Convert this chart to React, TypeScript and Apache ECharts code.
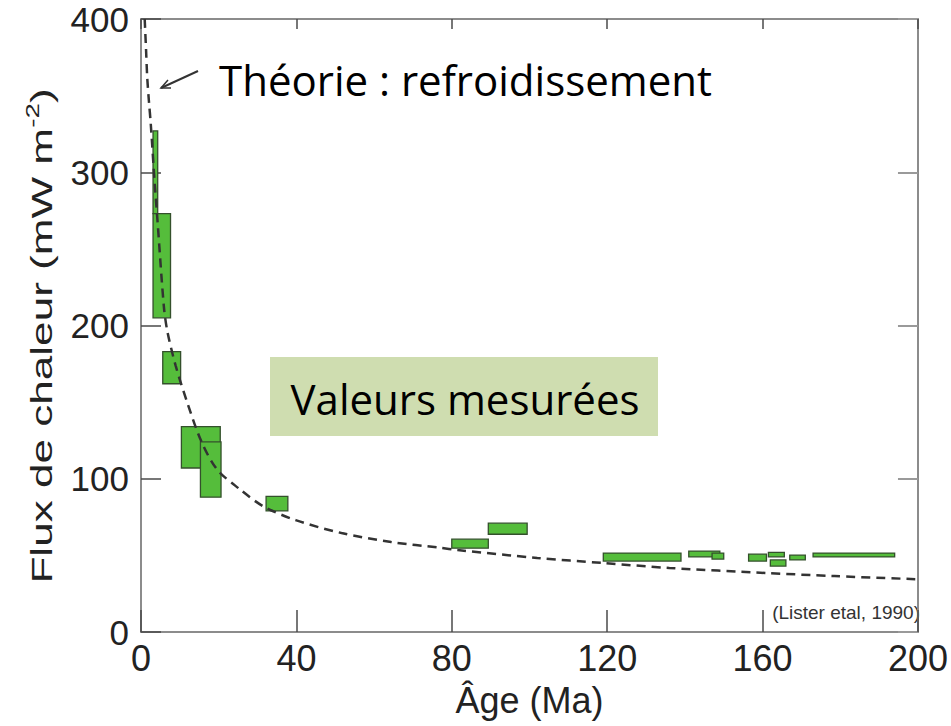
import React, { useEffect, useRef } from "react";
import * as echarts from "echarts";

// Theoretical cooling curve (age in Ma, heat flow in mW m-2)
const curveAge = [0.95, 1.3, 1.6, 2.05, 2.5, 3.55, 4.2, 5.9, 6.8, 8.9, 12, 15.6, 19.6, 25.5, 31.5, 39.8, 51.6, 64.4, 77, 81.5, 102, 119, 136, 161, 178.5, 200];
const curveFlux = [400, 380, 362, 346, 332, 292, 270, 212, 196, 174, 149, 124, 106, 93, 82, 73, 64.6, 58.7, 55, 53.5, 48.3, 45, 41.8, 38.5, 36.5, 34.4];

// Measured ranges: age from / to, heat flow low / high
const boxAgeFrom = [3.1, 3.1, 5.6, 10.4, 15.3, 32.2, 80, 89.4, 119, 141, 147, 156.4, 161.5, 162, 167, 173];
const boxAgeTo = [4.3, 7.6, 10.2, 20.4, 20.6, 37.8, 89.4, 99.4, 139, 149, 150, 161, 165.6, 166, 171, 194];
const boxFluxLow = [273, 205, 162, 107, 88, 79, 54.7, 63.8, 46.3, 49, 47.6, 46.3, 49, 43, 47, 49];
const boxFluxHigh = [327, 273, 183, 134, 124, 88.5, 60.6, 71, 51.5, 52.8, 51.5, 50.8, 52, 47, 50.2, 51.5];

const xTicks = { min: 0, max: 200, interval: 40 };
const yTicks = { min: 0, max: 400, interval: 100 };

const FRAME = "#8c8c8c";
const TICK = "#4a4a4a";
const SANS = "Liberation Sans, Arial, Helvetica, sans-serif";
const NOTE = "Open Sans, Noto Sans, sans-serif";

export default function App() {
  const ref = useRef<HTMLDivElement>(null);

  useEffect(() => {
    document.body.style.margin = "0";
    if (!ref.current) return;
    const chart = echarts.init(ref.current, undefined, { renderer: "svg" });

    const boxes = boxAgeFrom.map((a, i) => [a, boxAgeTo[i], boxFluxLow[i], boxFluxHigh[i]]);
    const curve = curveAge.map((a, i) => [a, curveFlux[i]]);

    const frameLine = { show: true, onZero: false, lineStyle: { color: FRAME, width: 2 } };

    chart.setOption({
      animation: false,
      backgroundColor: "#ffffff",
      grid: { left: 141, top: 19, right: 27, bottom: 94, containLabel: false },
      xAxis: [
        {
          type: "value",
          position: "bottom",
          ...xTicks,
          axisLine: frameLine,
          axisTick: { show: true, inside: true, length: 22, lineStyle: { color: TICK, width: 1.5 } },
          axisLabel: { fontSize: 36, fontFamily: SANS, color: "#222", margin: 8, showMaxLabel: true, showMinLabel: true },
          splitLine: { show: false },
          name: "Âge (Ma)",
          nameLocation: "middle",
          nameGap: 50,
          nameTextStyle: { fontSize: 36, fontFamily: SANS, color: "#222" },
        },
        {
          type: "value",
          position: "top",
          ...xTicks,
          axisLine: frameLine,
          axisTick: { show: true, inside: true, length: 10, lineStyle: { color: TICK, width: 1.5 } },
          axisLabel: { show: false },
          splitLine: { show: false },
        },
      ],
      yAxis: [
        {
          type: "value",
          position: "left",
          ...yTicks,
          axisLine: frameLine,
          axisTick: { show: true, inside: true, length: 20, lineStyle: { color: TICK, width: 1.5 } },
          axisLabel: { fontSize: 35, fontFamily: SANS, color: "#222", margin: 12 },
          splitLine: { show: false },
        },
        {
          type: "value",
          position: "right",
          ...yTicks,
          axisLine: frameLine,
          axisTick: { show: true, inside: true, length: 20, lineStyle: { color: "#9a9a9a", width: 2 } },
          axisLabel: { show: false },
          splitLine: { show: false },
        },
      ],
      series: [
        {
          type: "custom",
          name: "Valeurs mesurées",
          xAxisIndex: 0,
          yAxisIndex: 0,
          z: 2,
          encode: { x: [0, 1], y: [2, 3] },
          data: boxes,
          renderItem: (_params: any, api: any) => {
            const p0 = api.coord([api.value(0), api.value(3)]);
            const p1 = api.coord([api.value(1), api.value(2)]);
            return {
              type: "rect",
              shape: { x: p0[0], y: p0[1], width: p1[0] - p0[0], height: p1[1] - p0[1] },
              style: { fill: "#55bd3b", stroke: "#34502c", lineWidth: 1.3 },
            };
          },
        },
        {
          type: "line",
          name: "Théorie : refroidissement",
          xAxisIndex: 0,
          yAxisIndex: 0,
          z: 3,
          data: curve,
          smooth: 0.3,
          showSymbol: false,
          clip: true,
          lineStyle: { color: "#333333", width: 2.5, type: [9, 6] },
        },
      ],
      graphic: [
        {
          type: "text",
          x: 40,
          y: 336,
          rotation: Math.PI / 2,
          scaleX: 1.47,
          style: {
            text: "{a|Flux de chaleur (mW m}{s|-2}{a|)}",
            align: "center",
            verticalAlign: "middle",
            rich: {
              a: { fontSize: 30, fontFamily: SANS, fill: "#222", lineHeight: 34, verticalAlign: "bottom" },
              s: { fontSize: 19, fontFamily: SANS, fill: "#222", lineHeight: 34, verticalAlign: "top" },
            },
          },
        },
        {
          type: "text",
          x: 920,
          y: 612,
          style: { text: "(Lister etal, 1990)", fontSize: 19, fontFamily: SANS, fill: "#333", align: "right", verticalAlign: "middle" },
        },
        {
          type: "rect",
          shape: { x: 270, y: 357, width: 388, height: 79 },
          style: { fill: "#cfddb0" },
          z: 10,
        },
        {
          type: "text",
          x: 465,
          y: 398,
          z: 11,
          style: { text: "Valeurs mesurées", fontSize: 42, fontFamily: NOTE, fill: "#000", align: "center", verticalAlign: "middle" },
        },
        {
          type: "text",
          x: 219,
          y: 79,
          z: 11,
          style: { text: "Théorie : refroidissement", fontSize: 42, fontFamily: NOTE, fill: "#000", align: "left", verticalAlign: "middle" },
        },
        {
          type: "line",
          z: 11,
          shape: { x1: 198, y1: 71, x2: 161, y2: 88 },
          style: { stroke: "#333", lineWidth: 2 },
        },
        {
          type: "polyline",
          z: 11,
          shape: { points: [[168, 80], [161, 88], [171, 88]] },
          style: { stroke: "#333", lineWidth: 1.5, fill: null },
        },
      ],
    });

    return () => chart.dispose();
  }, []);

  return <div ref={ref} style={{ width: 951, height: 726 }} />;
}
